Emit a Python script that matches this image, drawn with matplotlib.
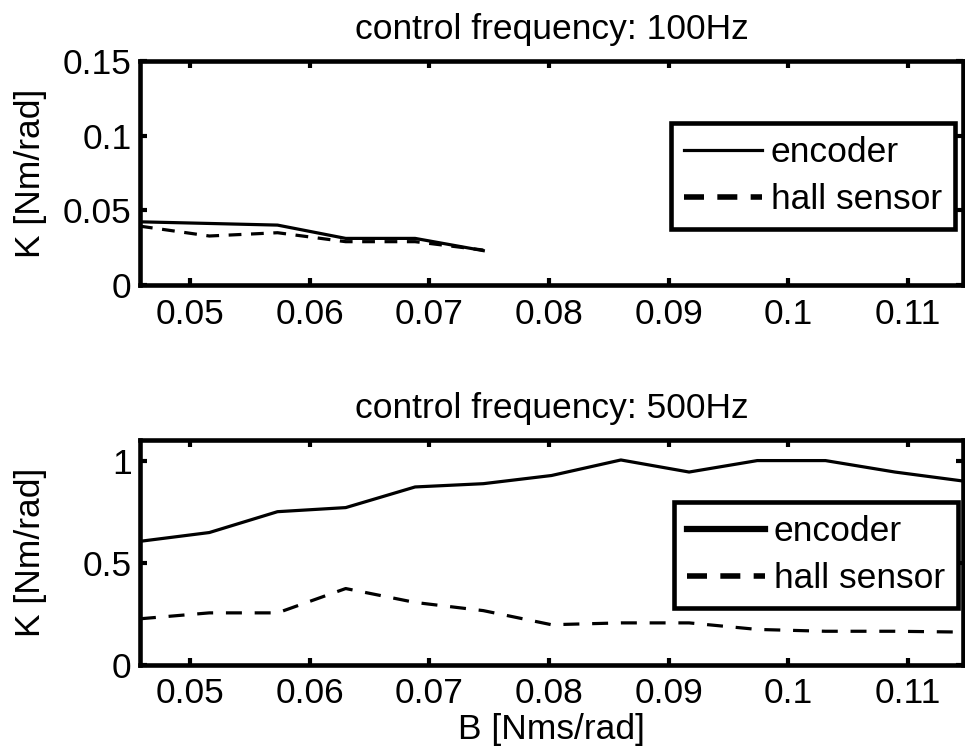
import matplotlib
matplotlib.use("Agg")
import matplotlib.pyplot as plt
from matplotlib.lines import Line2D

plt.rcParams['font.family'] = ['Liberation Sans', 'DejaVu Sans']

### Donnees

B_100 = [0.0458, 0.0516, 0.0573, 0.0630, 0.0688, 0.0745]
K_enc_100 = [0.0423, 0.0412, 0.0401, 0.0312, 0.0312, 0.0230]
K_hall_100 = [0.0394, 0.0328, 0.0350, 0.0290, 0.0290, 0.0234]

B_500 = [0.0458, 0.0516, 0.0573, 0.0630, 0.0688, 0.0745, 0.0802,
         0.0860, 0.0917, 0.0974, 0.1031, 0.1089, 0.1146]
K_enc_500 = [0.605, 0.648, 0.750, 0.770, 0.871, 0.887, 0.927,
             1.003, 0.944, 1.000, 1.000, 0.944, 0.900]
K_hall_500 = [0.226, 0.255, 0.255, 0.374, 0.306, 0.266, 0.197,
              0.206, 0.206, 0.174, 0.165, 0.165, 0.161]

xticks = [0.05, 0.06, 0.07, 0.08, 0.09, 0.10, 0.11]
xticklabels = ['0.05', '0.06', '0.07', '0.08', '0.09', '0.1', '0.11']
yticks_100 = [0, 0.05, 0.1, 0.15]
yticklabels_100 = ['0', '0.05', '0.1', '0.15']
yticks_500 = [0, 0.5, 1]
yticklabels_500 = ['0', '0.5', '1']

fs = 25.5
lw_spine = 3.3


def style(ax):
    for s in ax.spines.values():
        s.set_linewidth(lw_spine)
    ax.tick_params(direction='in', length=5, width=3, top=True, right=True,
                   labelsize=fs)
    ax.tick_params(axis='x', pad=9)
    ax.tick_params(axis='y', pad=6)
    ax.set_xlim(0.0458, 0.1146)
    ax.set_xticks(xticks)
    ax.set_xticklabels(xticklabels)
    ax.yaxis.set_label_coords(-0.113, 0.5)


def legende(ax, handles, anchor):
    leg = ax.legend(handles, ['encoder', 'hall sensor'], loc='upper right',
                    bbox_to_anchor=anchor, borderaxespad=0, fontsize=fs,
                    fancybox=False, handlelength=2.2, handletextpad=0.25,
                    borderpad=0.37, labelspacing=0.39, framealpha=1)
    leg.get_frame().set_edgecolor('k')
    leg.get_frame().set_linewidth(lw_spine)


fig = plt.figure(figsize=(9.65, 7.52), dpi=100)

### Haut : 100 Hz
ax1 = fig.add_axes([0.145, 0.621, 0.853, 0.298])
ax1.plot(B_100, K_enc_100, color='k', lw=2.3, solid_joinstyle='round')
ax1.plot(B_100, K_hall_100, color='k', lw=2.3, dashes=(4, 3))
style(ax1)
ax1.set_ylim(0, 0.15)
ax1.set_yticks(yticks_100)
ax1.set_yticklabels(yticklabels_100)
ax1.set_ylabel("K [Nm/rad]", fontsize=fs)
ax1.set_title("control frequency: 100Hz", fontsize=fs, pad=16)
legende(ax1, [Line2D([], [], color='k', lw=2.3),
              Line2D([], [], color='k', lw=4, dashes=(3.6, 2.4))],
        (0.990, 0.723))

### Bas : 500 Hz
ax2 = fig.add_axes([0.145, 0.1157, 0.853, 0.299])
ax2.plot(B_500, K_enc_500, color='k', lw=2.3, solid_joinstyle='round')
ax2.plot(B_500, K_hall_500, color='k', lw=2.3, dashes=(5, 4))
style(ax2)
ax2.set_ylim(0, 1.1)
ax2.set_yticks(yticks_500)
ax2.set_yticklabels(yticklabels_500)
ax2.set_ylabel("K [Nm/rad]", fontsize=fs)
ax2.set_xlabel("B [Nms/rad]", fontsize=fs, labelpad=2)
ax2.set_title("control frequency: 500Hz", fontsize=fs, pad=16)
legende(ax2, [Line2D([], [], color='k', lw=4.5),
              Line2D([], [], color='k', lw=4, dashes=(3.6, 2.4))],
        (0.994, 0.724))

plt.savefig('out.png', dpi=100)
